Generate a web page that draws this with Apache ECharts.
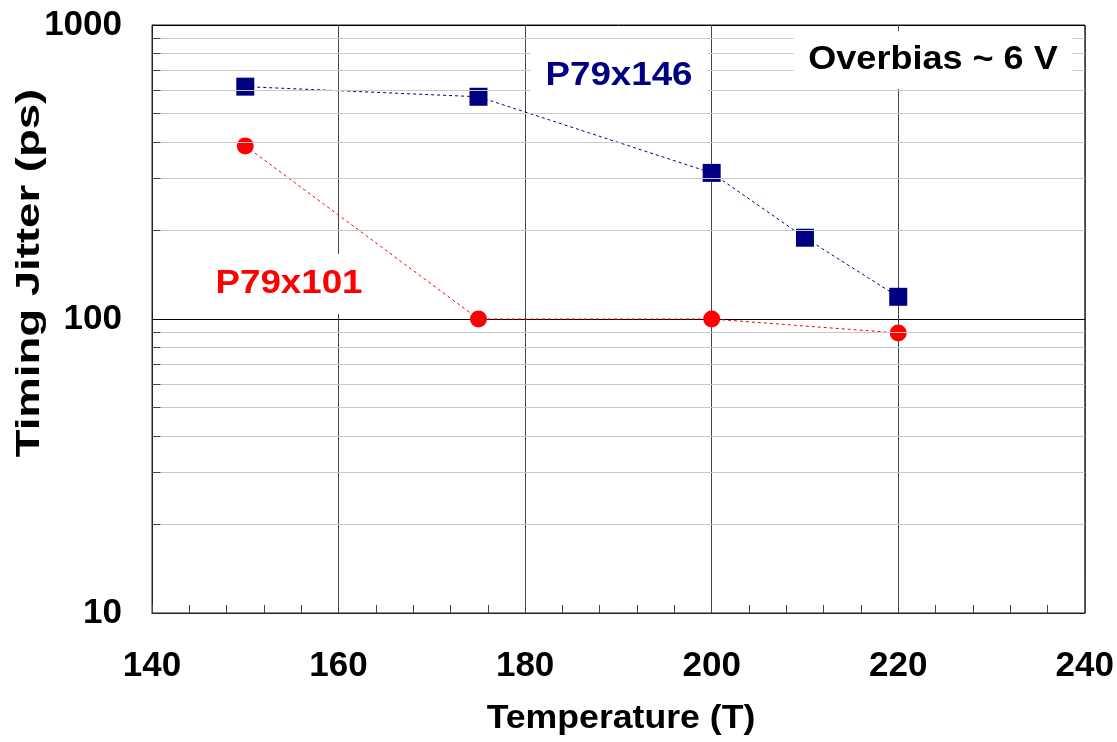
<!DOCTYPE html>
<html>
<head>
<meta charset="utf-8">
<script src="https://cdn.jsdelivr.net/npm/echarts@6/dist/echarts.min.js"></script>
<style>
html,body{margin:0;padding:0;background:#fff;}
#chart{width:1117px;height:742px;}
</style>
</head>
<body>
<div id="chart"></div>
<script>
// Data
const temps146 = [150, 175, 200, 210, 220];
const jitter146 = [617, 570, 314, 189, 119];
const temps101 = [150, 175, 200, 220];
const jitter101 = [388, 100, 100, 89.6];
const xTicks = [140, 160, 180, 200, 220, 240];
const yTicks = [10, 100, 1000];
const minorGridValues = [20, 30, 40, 50, 60, 70, 80, 90, 200, 300, 400, 500, 600, 700, 800, 900];

const FONT = '"Liberation Sans", Arial, sans-serif';
const chart = echarts.init(document.getElementById('chart'));

const pairs = (xs, ys) => xs.map((x, i) => [x, ys[i]]);

chart.setOption({
  animation: false,
  backgroundColor: '#fff',
  grid: {
    left: 152, right: 32, top: 25, bottom: 129,
    show: true, borderColor: '#222', borderWidth: 1, containLabel: false
  },
  xAxis: {
    type: 'value',
    min: xTicks[0], max: xTicks[xTicks.length - 1], interval: 20,
    axisLine: { show: true, lineStyle: { color: '#222', width: 1 } },
    axisTick: { show: true, inside: true, length: 8, lineStyle: { color: '#444' } },
    minorTick: { show: true, splitNumber: 5, length: 8, lineStyle: { color: '#444' } },
    axisLabel: { fontFamily: FONT, fontWeight: 'bold', fontSize: 35, color: '#000', margin: 36 },
    splitLine: { show: true, lineStyle: { color: '#444', width: 1 } }
  },
  yAxis: {
    type: 'log', logBase: 10,
    min: yTicks[0], max: yTicks[yTicks.length - 1],
    axisLine: { show: true, lineStyle: { color: '#222', width: 1 } },
    axisTick: { show: false },
    axisLabel: { fontFamily: FONT, fontWeight: 'bold', fontSize: 35, color: '#000', margin: 30,
      formatter: v => String(Math.round(v)) },
    splitLine: { show: true, lineStyle: { color: '#000', width: 1 } }
  },
  graphic: [
    {
      type: 'text', x: 30, y: 273, rotation: Math.PI / 2, scaleX: 1.38,
      style: { text: 'Timing Jitter (ps)', fontFamily: FONT, fontWeight: 'bold', fontSize: 33,
        fill: '#000', align: 'center', verticalAlign: 'middle' }
    },
    {
      type: 'text', x: 621, y: 719, scaleX: 1.08,
      style: { text: 'Temperature (T)', fontFamily: FONT, fontWeight: 'bold', fontSize: 33,
        fill: '#000', align: 'center', verticalAlign: 'middle' }
    },
    {
      type: 'text', x: 619, y: 76, z: 100, scaleX: 1.08,
      style: { text: 'P79x146', fontFamily: FONT, fontWeight: 'bold', fontSize: 34, fill: '#000080',
        align: 'center', verticalAlign: 'middle', backgroundColor: '#fff', padding: [13, 14] }
    },
    {
      type: 'text', x: 289, y: 284, z: 100, scaleX: 1.08,
      style: { text: 'P79x101', fontFamily: FONT, fontWeight: 'bold', fontSize: 34, fill: '#ff0000',
        align: 'center', verticalAlign: 'middle', backgroundColor: '#fff', padding: [13, 14] }
    },
    {
      type: 'text', x: 933, y: 60, z: 100, scaleX: 1.06,
      style: { text: 'Overbias ~ 6 V', fontFamily: FONT, fontWeight: 'bold', fontSize: 34, fill: '#000',
        align: 'center', verticalAlign: 'middle', backgroundColor: '#fff', padding: [12, 14] }
    }
  ],
  series: [
    {
      type: 'line', data: [], silent: true, z: 1,
      markLine: {
        silent: true, symbol: 'none', animation: false,
        label: { show: false },
        lineStyle: { color: '#c8c8c8', width: 1, type: 'solid' },
        data: minorGridValues.map(v => ({ yAxis: v }))
      }
    },
    {
      type: 'line', data: [], silent: true, z: 2,
      markLine: {
        silent: true, symbol: 'none', animation: false,
        label: { show: false },
        lineStyle: { color: '#444', width: 1, type: 'solid' },
        data: minorGridValues.map(v => [{ coord: [xTicks[0], v] }, { coord: [xTicks[0] + 0.9, v] }])
      }
    },
    {
      name: 'P79x101', type: 'line', z: 3,
      data: pairs(temps101, jitter101),
      symbol: 'circle', symbolSize: 17,
      itemStyle: { color: '#ff0000' },
      lineStyle: { color: '#ff0000', width: 1, type: [3, 3] }
    },
    {
      name: 'P79x146', type: 'line', z: 4,
      data: pairs(temps146, jitter146),
      symbol: 'rect', symbolSize: 18,
      itemStyle: { color: '#000080' },
      lineStyle: { color: '#000080', width: 1, type: [3, 3] }
    }
  ]
});
</script>
</body>
</html>
